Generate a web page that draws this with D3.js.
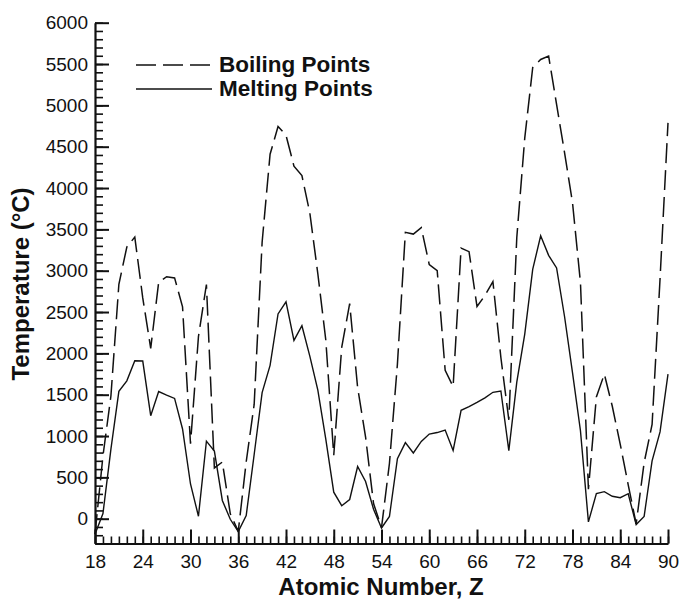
<!DOCTYPE html>
<html>
<head>
<meta charset="utf-8">
<script src="https://cdn.jsdelivr.net/npm/d3@7"></script>
<style>
  html, body { margin: 0; padding: 0; background: #fff; }
  svg { display: block; }
  text { font-family: "Liberation Sans", Arial, Helvetica, sans-serif; fill: #111; }
</style>
</head>
<body>
<svg id="chart" width="680" height="599"></svg>
<script>
// Atomic numbers Z = 18 (Ar) … 90 (Th)
const atomicNumbers = [
  18, 19, 20, 21, 22, 23, 24, 25, 26, 27, 28, 29, 30, 31, 32, 33, 34, 35, 36,
  37, 38, 39, 40, 41, 42, 43, 44, 45, 46, 47, 48, 49, 50, 51, 52, 53, 54,
  55, 56, 57, 58, 59, 60, 61, 62, 63, 64, 65, 66, 67, 68, 69, 70, 71, 72,
  73, 74, 75, 76, 77, 78, 79, 80, 81, 82, 83, 84, 85, 86, 87, 88, 89, 90
];

// Boiling points, °C
const boilingPoints = [
  -186, 759, 1484, 2836, 3287, 3407, 2671, 2061, 2861, 2927, 2913, 2562, 907, 2204, 2833, 614, 685, 59, -153,
  688, 1382, 3345, 4409, 4744, 4639, 4265, 4150, 3695, 2963, 2162, 767, 2072, 2602, 1587, 988, 184, -108,
  671, 1870, 3464, 3443, 3520, 3074, 3000, 1794, 1597, 3273, 3230, 2567, 2700, 2868, 1950, 1196, 3402, 4603,
  5458, 5555, 5596, 5012, 4428, 3825, 2856, 357, 1473, 1749, 1360, 900, 410, -62, 677, 1140, 2900, 4788
];

// Melting points, °C
const meltingPoints = [
  -189, 63, 842, 1541, 1668, 1910, 1907, 1246, 1538, 1495, 1455, 1085, 420, 30, 938, 817, 221, -7, -157,
  39, 777, 1526, 1855, 2477, 2623, 2157, 2334, 1964, 1555, 962, 321, 157, 232, 631, 450, 114, -112,
  28, 727, 920, 795, 935, 1024, 1042, 1072, 826, 1312, 1356, 1407, 1461, 1529, 1545, 824, 1652, 2233,
  3017, 3422, 3186, 3033, 2446, 1768, 1064, -39, 304, 327, 271, 254, 302, -71, 27, 700, 1050, 1750
];

const xTicks = [18, 24, 30, 36, 42, 48, 54, 60, 66, 72, 78, 84, 90];
const yTicks = [0, 500, 1000, 1500, 2000, 2500, 3000, 3500, 4000, 4500, 5000, 5500, 6000];

const seriesNames = ["Boiling Points", "Melting Points"];
const xTitle = "Atomic Number, Z";
const yTitle = "Temperature (°C)";

const svg = d3.select("#chart");

const x = d3.scaleLinear().domain([18, 90]).range([95, 668]);
const y = d3.scaleLinear().domain([-300, 6000]).range([543.5, 22.7]);

// minor ticks
svg.append("g")
  .attr("transform", `translate(0,${y.range()[0]})`)
  .call(d3.axisBottom(x).tickValues(d3.range(18, 91, 1)).tickSize(-7).tickSizeOuter(0).tickFormat(""))
  .call(g => g.select(".domain").remove())
  .call(g => g.selectAll("line").attr("stroke", "#111").attr("stroke-width", 1.6));

svg.append("g")
  .attr("transform", `translate(${x.range()[0]},0)`)
  .call(d3.axisLeft(y).tickValues(d3.range(-300, 6001, 100)).tickSize(-8).tickSizeOuter(0).tickFormat(""))
  .call(g => g.select(".domain").remove())
  .call(g => g.selectAll("line").attr("stroke", "#111").attr("stroke-width", 1.6));

// major ticks + axis lines
const xAxis = svg.append("g")
  .attr("transform", `translate(0,${y.range()[0]})`)
  .call(d3.axisBottom(x).tickValues(xTicks).tickSize(-14).tickSizeOuter(0).tickPadding(11).tickFormat(d3.format("d")));

const yAxis = svg.append("g")
  .attr("transform", `translate(${x.range()[0]},0)`)
  .call(d3.axisLeft(y).tickValues(yTicks).tickSize(-14).tickSizeOuter(0).tickPadding(7).tickFormat(d3.format("d")));

[xAxis, yAxis].forEach(g => {
  g.select(".domain").attr("stroke", "#111").attr("stroke-width", 2.2);
  g.selectAll(".tick line").attr("stroke", "#111").attr("stroke-width", 2);
  g.selectAll(".tick text")
    .attr("fill", "#111")
    .style("font-family", '"Liberation Sans", Arial, sans-serif')
    .style("font-size", "19px");
});

// data lines
const line = data => d3.line()
  .x((d, i) => x(atomicNumbers[i]))
  .y(d => y(d))(data);

svg.append("path")
  .attr("d", line(boilingPoints))
  .attr("fill", "none")
  .attr("stroke", "#111")
  .attr("stroke-width", 1.5)
  .attr("stroke-dasharray", "20,7")
  .attr("stroke-linejoin", "miter");

svg.append("path")
  .attr("d", line(meltingPoints))
  .attr("fill", "none")
  .attr("stroke", "#111")
  .attr("stroke-width", 1.4)
  .attr("stroke-linejoin", "miter");

// legend
const legend = svg.append("g");
const legendRows = [
  { name: seriesNames[0], dash: "20,7", ly: 65, ty: 72 },
  { name: seriesNames[1], dash: null, ly: 89, ty: 96 }
];
legendRows.forEach(r => {
  legend.append("line")
    .attr("x1", 136).attr("x2", 212)
    .attr("y1", r.ly).attr("y2", r.ly)
    .attr("stroke", "#111").attr("stroke-width", 1.6)
    .attr("stroke-dasharray", r.dash);
  legend.append("text")
    .attr("x", 219).attr("y", r.ty)
    .style("font-size", "22.5px").style("font-weight", "bold")
    .text(r.name);
});

// axis titles
svg.append("text")
  .attr("x", 381).attr("y", 595)
  .attr("text-anchor", "middle")
  .style("font-size", "24px").style("font-weight", "bold")
  .text(xTitle);

svg.append("text")
  .attr("transform", "translate(29,284) rotate(-90)")
  .attr("text-anchor", "middle")
  .style("font-size", "24px").style("font-weight", "bold")
  .text(yTitle);
</script>
</body>
</html>
